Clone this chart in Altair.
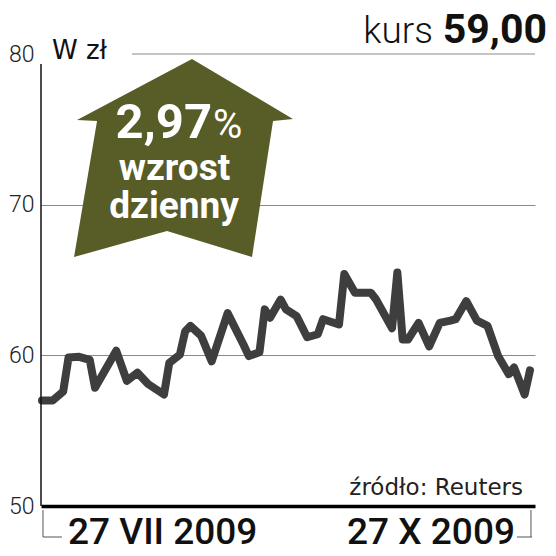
import altair as alt
import pandas as pd

# ---- data ----
dates = [
    "2009-07-27", "2009-07-29", "2009-07-31", "2009-08-01", "2009-08-03", "2009-08-05",
    "2009-08-06", "2009-08-10", "2009-08-12", "2009-08-14", "2009-08-16", "2009-08-19",
    "2009-08-20", "2009-08-22", "2009-08-23", "2009-08-24", "2009-08-26", "2009-08-28",
    "2009-08-31", "2009-09-03", "2009-09-04", "2009-09-06", "2009-09-07", "2009-09-08",
    "2009-09-10", "2009-09-11", "2009-09-13", "2009-09-15", "2009-09-17", "2009-09-18",
    "2009-09-21", "2009-09-22", "2009-09-24", "2009-09-27", "2009-09-28", "2009-10-01",
    "2009-10-02", "2009-10-03", "2009-10-04", "2009-10-06", "2009-10-08", "2009-10-10",
    "2009-10-12", "2009-10-13", "2009-10-15", "2009-10-17", "2009-10-19", "2009-10-21",
    "2009-10-23", "2009-10-24", "2009-10-26", "2009-10-27",
]
prices = [
    57.0, 57.0, 57.6, 59.85, 59.9, 59.7,
    57.85, 60.3, 58.3, 58.85, 58.1, 57.4,
    59.5, 60.05, 61.6, 61.95, 61.3, 59.6,
    62.8, 60.7, 59.95, 60.2, 63.05, 62.5,
    63.7, 63.05, 62.6, 61.2, 61.4, 62.4,
    62.05, 65.4, 64.15, 64.15, 63.7, 61.8,
    65.5, 61.05, 61.05, 62.15, 60.6, 62.15,
    62.3, 62.4, 63.6, 62.3, 61.95, 59.95,
    58.75, 59.2, 57.4, 59.0,
]
y_ticks = [50, 60, 70, 80]
range_dates = ["2009-07-27", "2009-10-27"]
range_labels = ["27 VII 2009", "27 X 2009"]
change_text = "2,97"
price_text = "59,00"

df = pd.DataFrame({"date": [d + "T00:00:00" for d in dates], "price": prices})
ends = pd.DataFrame({"date": [d + "T00:00:00" for d in range_dates], "label": range_labels})

W, H = 494, 452
x_scale = alt.Scale(domain=[alt.DateTime(year=2009, month=7, date=26, hours=19, minutes=30),
                            alt.DateTime(year=2009, month=10, date=27, hours=22, minutes=50)])
y_scale = alt.Scale(domain=[50, 80], nice=False, zero=False)

x_enc = alt.X("date:T", scale=x_scale,
              axis=alt.Axis(title=None, labels=False, ticks=False, grid=False,
                            domain=True, domainColor="#000000", domainWidth=3.5))
y_enc = alt.Y("price:Q", scale=y_scale,
              axis=alt.Axis(title=None, values=y_ticks, domain=False, ticks=False,
                            labelFont="Roboto", labelFontWeight=300, labelFontSize=23,
                            labelColor="#222222", labelPadding=7,
                            grid=True, gridWidth=1,
                            gridColor=alt.condition("datum.value == 80 || datum.value == 50",
                                                    alt.value("transparent"), alt.value("#8a8a8a"))))

line = alt.Chart(df).mark_line(color="#3e3e3e", strokeWidth=8, strokeJoin="round",
                               strokeCap="round").encode(x=x_enc, y=y_enc)

one = pd.DataFrame({"a": [0]})

grid80 = alt.Chart(pd.DataFrame({"price": [80]})).mark_rule(color="#8a8a8a", strokeWidth=1).encode(
    y=alt.Y("price:Q", scale=y_scale), x=alt.value(91), x2=alt.value(W))

left_axis = alt.Chart(one).mark_rule(color="#111111", strokeWidth=1.5).encode(
    x=alt.value(0), y=alt.value(10), y2=alt.value(H))

arrow_path = ("M0.077,-0.9 L0.995,-0.355 L0.814,-0.336 L0.623,0.9 L-0.15,0.664 "
              "L-0.995,0.9 L-0.786,-0.336 L-0.968,-0.345 Z")
arrow = alt.Chart(one).mark_point(shape=arrow_path, filled=True, fill="#585c27",
                                  strokeWidth=0, opacity=1, size=48400).encode(
    x=alt.value(142.5), y=alt.value(104))

def txt(text, x, y, size, weight="normal", font="Roboto", color="#111111", align="left"):
    return alt.Chart(one).mark_text(text=text, font=font, fontSize=size, fontWeight=weight,
                                    color=color, align=align, baseline="alphabetic").encode(
        x=alt.value(x), y=alt.value(y))

t_pct = txt(change_text, 171, 84, 49, "bold", color="#ffffff", align="right")
t_pct2 = txt("%", 172, 84, 40, "normal", color="#ffffff", align="left")
t_wz = txt("wzrost", 133.5, 126, 37, "bold", color="#ffffff", align="center")
t_dz = txt("dzienny", 133, 164, 37, "bold", color="#ffffff", align="center")

t_unit = txt("W zł", 11, 5, 26, "normal", font="DejaVu Sans", color="#111111")
t_kurs = txt("kurs", 392, -11, 37, 300, color="#111111", align="right")
t_price = txt(price_text, 506, -11, 41, "bold", color="#111111", align="right")
t_src = txt("źródło: Reuters", 482, 441, 23, "normal", font="DejaVu Sans", color="#222222", align="right")

lab_left = alt.Chart(ends.iloc[[0]]).mark_text(font="Roboto", fontSize=37, fontWeight=500,
                                               color="#111111", align="left", baseline="alphabetic",
                                               dx=26).encode(
    x=alt.X("date:T", scale=x_scale), y=alt.value(490), text="label:N")
lab_right = alt.Chart(ends.iloc[[1]]).mark_text(font="Roboto", fontSize=37, fontWeight=500,
                                                color="#111111", align="right", baseline="alphabetic",
                                                dx=-15).encode(
    x=alt.X("date:T", scale=x_scale), y=alt.value(490), text="label:N")

br_v = alt.Chart(ends).mark_rule(color="#555555", strokeWidth=1, xOffset=1).encode(
    x=alt.X("date:T", scale=x_scale), y=alt.value(456), y2=alt.value(483))
br_hl = alt.Chart(ends.iloc[[0]]).mark_rule(color="#555555", strokeWidth=1, xOffset=1, x2Offset=20).encode(
    x=alt.X("date:T", scale=x_scale), x2=alt.X2("date:T"), y=alt.value(483))
br_hr = alt.Chart(ends.iloc[[1]]).mark_rule(color="#555555", strokeWidth=1, xOffset=2, x2Offset=-13).encode(
    x=alt.X("date:T", scale=x_scale), x2=alt.X2("date:T"), y=alt.value(483))

chart = alt.layer(
    line, grid80, left_axis, arrow, t_pct, t_pct2, t_wz, t_dz,
    t_unit, t_kurs, t_price, t_src, lab_left, lab_right, br_v, br_hl, br_hr,
).properties(
    width=W, height=H,
    autosize=alt.AutoSizeParams(type="none"),
    padding={"left": 33, "top": 46, "right": 13, "bottom": 42},
    background="#ffffff",
).configure_view(stroke=None)

chart.save("out.html", embed_options={"renderer": "svg", "actions": False})
